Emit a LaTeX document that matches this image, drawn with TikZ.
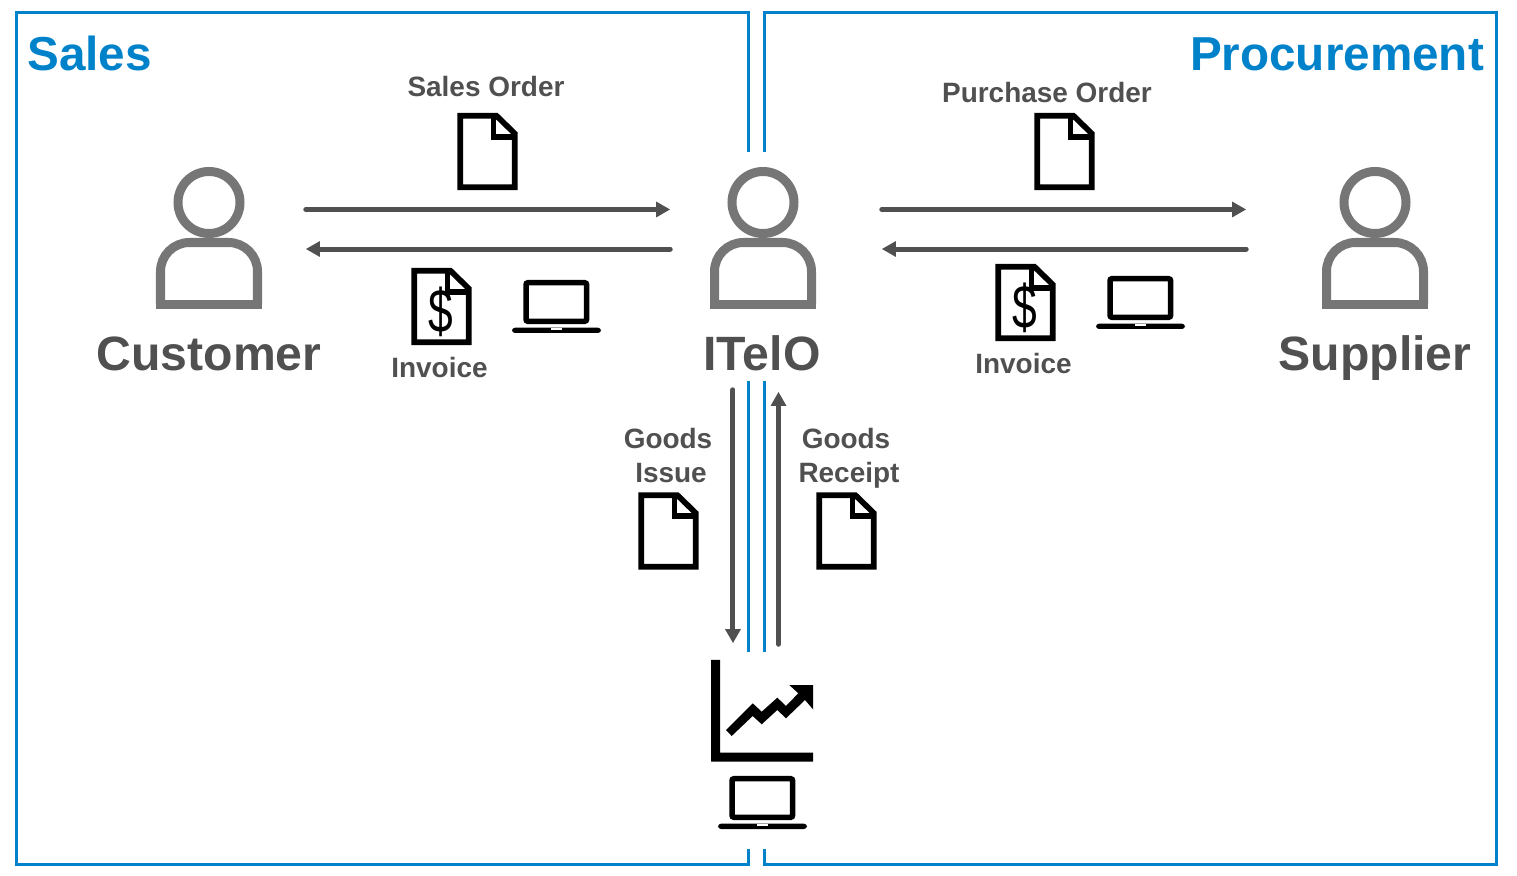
\documentclass[tikz,border=0pt]{standalone}
\usepackage{fontspec}
\setmainfont{Liberation Sans}
\usetikzlibrary{arrows.meta}
\definecolor{bluebar}{HTML}{0082CA}
\definecolor{persongray}{HTML}{767676}
\definecolor{textgray}{HTML}{505050}
\tikzset{
    areatitle/.style={text=bluebar,font=\fontsize{13.55}{16}\selectfont\bfseries,inner sep=0pt,anchor=base},
    rolename/.style={text=textgray,font=\fontsize{13.7}{16}\selectfont\bfseries,inner sep=0pt,anchor=base},
    doclabel/.style={text=textgray,font=\fontsize{7.95}{9.67}\selectfont\bfseries,inner sep=0pt,align=center},
    dollar/.style={text=black,font=\fontsize{17.5}{18}\selectfont,inner sep=0pt},
    frameline/.style={draw=bluebar,line width=.03cm},
    flow/.style={draw=textgray,line width=.05cm,line cap=round,-{Triangle[width=.147cm,length=.14cm,fill=textgray]}},
    rolebox/.style={minimum width=1.06cm,minimum height=1.42cm,inner sep=0pt},
    docicon/.pic={
        \draw[line width=.057cm,miter limit=10] (2.8,2.8) -- (39,2.8) -- (57.2,20.5) -- (57.2,74.2) -- (2.8,74.2) -- cycle;
        \draw[line width=.057cm] (36,2.8) -- (36,23.7) -- (57.2,23.7);
    },
    personicon/.pic={
        \draw[persongray,line width=.09cm] (0,-35.5) circle (31);
        \draw[persongray,line width=.09cm,rounded corners=.29cm] (-48.5,66.5) -- (-48.5,4.5) -- (48.5,4.5) -- (48.5,66.5);
        \draw[persongray,line width=.09cm] (-53,66.5) -- (53,66.5);
    },
    laptopicon/.pic={
        \draw[line width=.055cm,rounded corners=.02cm] (14,2.7) rectangle (74.6,41.3);
        \fill[rounded corners=.03cm] (0,47.7) rectangle (89,53);
        \fill[white] (39,47.7) rectangle (50,50);
    }
}
\begin{document}
\begin{tikzpicture}[x=.01cm,y=-.01cm]
    \useasboundingbox (0,0) rectangle (1517,876);

    \draw[frameline] (748.7,152) -- (748.7,12.5) -- (16.3,12.5) -- (16.3,864.7) -- (748.7,864.7) -- (748.7,849);
    \draw[frameline] (764.7,152) -- (764.7,12.5) -- (1496.7,12.5) -- (1496.7,864.7) -- (764.7,864.7) -- (764.7,849);
    \draw[frameline] (748.7,381) -- (748.7,652);
    \draw[frameline] (764.7,381) -- (764.7,652);

    \node[areatitle] (sales) at (89.5,70.5) {Sales};
    \node[areatitle] (procurement) at (1337,70.5) {Procurement};

    \node[rolebox] (customer) at (209,238) {};
    \node[rolebox] (itelo) at (763,238) {};
    \node[rolebox] (supplier) at (1375,238) {};
    \pic at (customer) {personicon};
    \pic at (itelo) {personicon};
    \pic at (supplier) {personicon};
    \node[rolename] (customername) at (209,370) {Customer};
    \node[rolename] (iteloname) at (762,370) {ITelO};
    \node[rolename] (suppliername) at (1375,370) {Supplier};

    \node[minimum width=1.04cm,minimum height=1.02cm,inner sep=0pt] (chart) at (763,711) {};

    \draw[flow,shorten <=.43cm,shorten >=.39cm] ([yshift=.285cm]customer.east) -- ([yshift=.285cm]itelo.west);
    \draw[flow,shorten <=.39cm,shorten >=.43cm] ([yshift=-.11cm]itelo.west) -- ([yshift=-.11cm]customer.east);
    \draw[flow,shorten <=.65cm,shorten >=.75cm] ([yshift=.285cm]itelo.east) -- ([yshift=.285cm]supplier.west);
    \draw[flow,shorten <=.75cm,shorten >=.65cm] ([yshift=-.11cm]supplier.west) -- ([yshift=-.11cm]itelo.east);
    \draw[flow,shorten <=.80cm,shorten >=.16cm] ([xshift=-.30cm]itelo.south) -- ([xshift=-.30cm]chart.north);
    \draw[flow,shorten <=.15cm,shorten >=.82cm] ([xshift=.155cm]chart.north) -- ([xshift=.155cm]itelo.south);

    \node[doclabel] (salesorder) at (486,87) {Sales Order};
    \node[doclabel] (purchaseorder) at (1047,93) {Purchase Order};
    \node[doclabel] (invoicecust) at (439.5,368) {Invoice};
    \node[doclabel] (invoicesupp) at (1023.5,364) {Invoice};
    \node[doclabel] (goodsissue) at (671,456) {Goods\kern 1.7pt\\Issue};
    \node[doclabel] (goodsreceipt) at (849,458) {Goods\kern 1.7pt\\Receipt};

    \pic at (457.5,113) {docicon};
    \pic at (1034.5,113) {docicon};
    \pic at (638.5,492.5) {docicon};
    \pic at (816.5,492.5) {docicon};
    \pic at (411.5,268) {docicon};
    \pic at (995.5,264) {docicon};
    \node[dollar] (dollarcust) at (441,311.5) {\scalebox{.72}[1]{\$}};
    \node[dollar] (dollarsupp) at (1025,307.5) {\scalebox{.72}[1]{\$}};

    \pic at (512,280) {laptopicon};
    \pic at (1096,276) {laptopicon};
    \pic at (718,776) {laptopicon};

    \fill (711,660) -- (720,660) -- (720,752.7) -- (813,752.7) -- (813,761.7) -- (711,761.7) -- cycle;
    \fill (726,730) -- (752.7,703.3) -- (761.7,711.7) -- (777.3,697.7) -- (786,706) -- (798.3,693.3) -- (789.3,685) -- (813,685) -- (813,709.3) -- (805,700) -- (786,718.3) -- (777.3,710) -- (761.7,724.3) -- (752.7,716) -- (731.7,736) -- cycle;
\end{tikzpicture}
\end{document}
